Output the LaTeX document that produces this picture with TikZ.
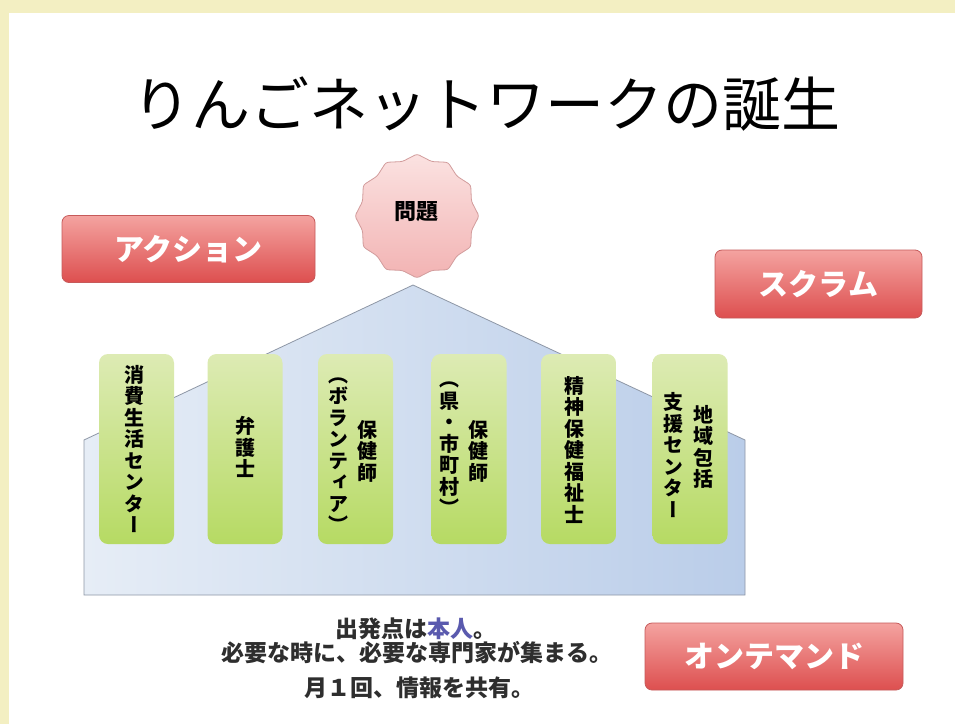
\documentclass[tikz,border=0pt]{standalone}
\usepackage{fontspec}
\usetikzlibrary{shapes.geometric}
\newfontfamily\cjk{Noto Sans CJK JP}
\newfontfamily\cjkv[RawFeature=+vert]{Noto Sans CJK JP}
\definecolor{bgyellow}{HTML}{F3EFC2}
\definecolor{btntop}{HTML}{F4A3A0}
\definecolor{btnbot}{HTML}{DD4F4F}
\definecolor{btnline}{HTML}{C65A5A}
\definecolor{pilltop}{HTML}{DDEBB4}
\definecolor{pillbot}{HTML}{B6DA63}
\definecolor{houseL}{HTML}{E6EDF6}
\definecolor{houseR}{HTML}{BACDE9}
\definecolor{houseline}{HTML}{8E97A6}
\definecolor{startop}{HTML}{FBE2E1}
\definecolor{starbot}{HTML}{F2B3B3}
\definecolor{starline}{HTML}{D29C9C}
\definecolor{notegray}{HTML}{2E2E2E}
\definecolor{honnin}{HTML}{5A5AAE}
\tikzset{
  redbtn/.style={rounded corners=7pt, top color=btntop, bottom color=btnbot,
    draw=btnline, line width=0.8pt, text=white, inner sep=0pt,
    font=\cjk\bfseries\fontsize{30}{32}\selectfont},
  pillar/.style={rounded corners=9pt, top color=pilltop, bottom color=pillbot,
    draw=none, minimum width=75pt, minimum height=190pt, inner sep=0pt},
  vtext/.style={font=\cjkv\bfseries\fontsize{20}{21.5}\selectfont, align=center,
    inner sep=0pt, text=black},
  notetext/.style={font=\cjk\bfseries\fontsize{23}{28}\selectfont, text=notegray, inner sep=0pt}
}
\begin{document}
\begin{tikzpicture}[x=1pt,y=-1pt]
\useasboundingbox (0,0) rectangle (955,724);
\fill[bgyellow] (0,0) rectangle (955,724);
\fill[white] (9,13) rectangle (955,724);

% title
\node[font=\cjk\fontsize{59}{60}\selectfont, inner sep=0pt] (title) at (486,104) {りんごネットワークの誕生};

% house
\path[draw=houseline, line width=0.8pt, left color=houseL, right color=houseR]
  (84,595) -- (84,440) -- (413,285) -- (745,440) -- (745,595) -- cycle;

% problem star
\node[star, star points=12, star point ratio=1.1, minimum size=124pt, inner sep=0pt,
  rounded corners=2.5pt, top color=startop, bottom color=starbot, draw=starline, line width=0.8pt] (mondai) at (417,216) {};
\node[font=\cjk\bfseries\fontsize{22}{24}\selectfont, inner sep=0pt] (mondaitxt) at (416,212) {問題};

% buttons
\node[redbtn, minimum width=253pt, minimum height=67pt] (action) at (188.5,249) {アクション};
\node[redbtn, minimum width=207pt, minimum height=68pt] (scrum) at (818.5,284) {スクラム};
\node[redbtn, minimum width=258pt, minimum height=67pt] (ondemand) at (774,656.5) {オンテマンド};

% pillars
\node[pillar] (p1) at (136.5,449) {};
\node[pillar] (p2) at (245,449) {};
\node[pillar] (p3) at (355.5,449) {};
\node[pillar] (p4) at (469,449) {};
\node[pillar] (p5) at (578.5,449) {};
\node[pillar] (p6) at (690,449) {};

\node[vtext] (t1) at (134,449) {消\\費\\生\\活\\セ\\ン\\タ\\ー};
\node[vtext] (t2) at (245,447) {弁\\護\\士};
\node[vtext] (t3a) at (367,451) {保\\健\\師};
\node[vtext] (t3b) at (338,455) {（\\ボ\\ラ\\ン\\テ\\ィ\\ア\\）};
\node[vtext] (t4a) at (478,451) {保\\健\\師};
\node[vtext] (t4b) at (449,449) {（\\県\\・\\市\\町\\村\\）};
\node[vtext] (t5) at (574,450) {精\\神\\保\\健\\福\\祉\\士};
\node[vtext] (t6a) at (703,447) {地\\域\\包\\括};
\node[vtext] (t6b) at (673,455) {支\\援\\セ\\ン\\タ\\ー};

% note
\node[notetext] (n1) at (416,629) {出発点は\textcolor{honnin}{本人}。};
\node[notetext] (n2) at (417,653) {必要な時に、必要な専門家が集まる。};
\node[notetext] (n3) at (419,688) {月１回、情報を共有。};
\end{tikzpicture}
\end{document}
